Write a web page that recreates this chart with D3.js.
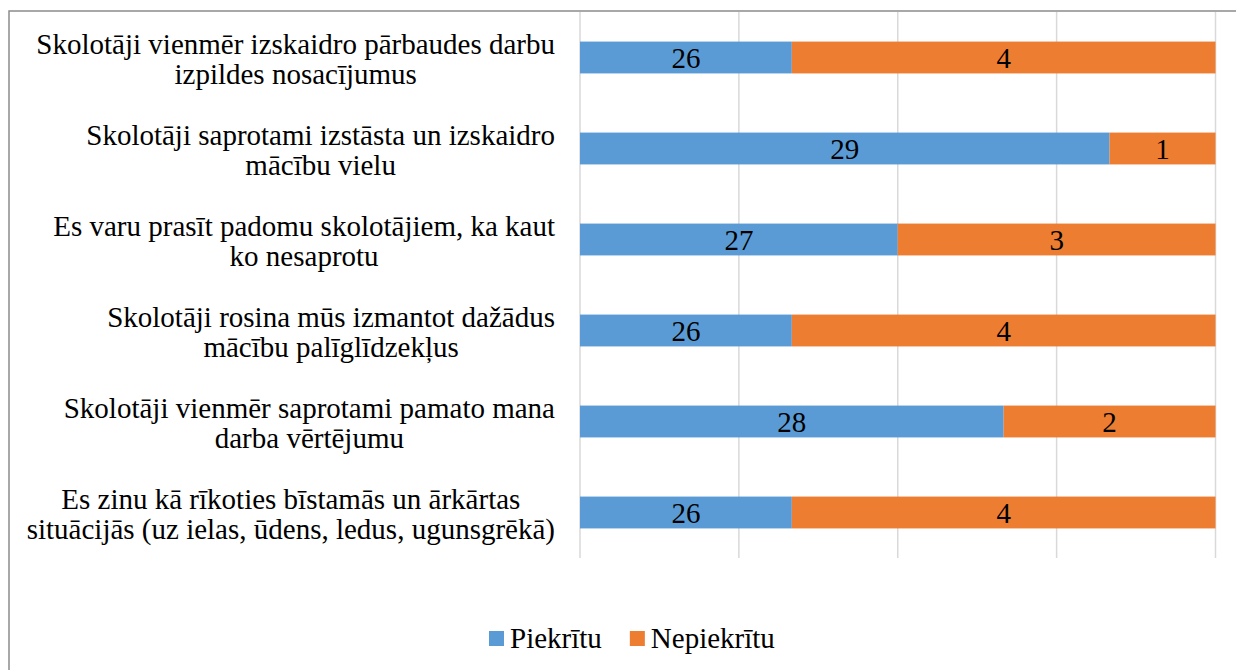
<!DOCTYPE html>
<html><head><meta charset="utf-8">
<script src="https://cdn.jsdelivr.net/npm/d3@7"></script>
<style>body{margin:0;background:#fff}svg{display:block}</style>
</head><body>
<svg id="c" width="1236" height="670"></svg>
<script>
const categories = [
  ["Skolotāji vienmēr izskaidro pārbaudes darbu", "izpildes nosacījumus"],
  ["Skolotāji saprotami izstāsta un izskaidro", "mācību vielu"],
  ["Es varu prasīt padomu skolotājiem, ka kaut", "ko nesaprotu"],
  ["Skolotāji rosina mūs izmantot dažādus", "mācību palīglīdzekļus"],
  ["Skolotāji vienmēr saprotami pamato mana", "darba vērtējumu"],
  ["Es zinu kā rīkoties bīstamās un ārkārtas", "situācijās (uz ielas, ūdens, ledus, ugunsgrēkā)"]
];
const piekritu = [26, 29, 27, 26, 28, 26];
const nepiekritu = [4, 1, 3, 4, 2, 4];
const seriesNames = ["Piekrītu", "Nepiekrītu"];
const colors = ["#5b9bd5", "#ed7d31"];
const axisMin = 24, axisMax = 30;
const gridTicks = [24, 25.5, 27, 28.5, 30];

const svg = d3.select("#c");
const font = '"Liberation Serif", "Times New Roman", Tinos, serif';
const fs = 29;

// outer border
svg.append("rect").attr("x", 9).attr("y", 11).attr("width", 1240).attr("height", 680)
  .attr("fill", "none").attr("stroke", "#8c8c8c").attr("stroke-width", 1.5);

const x = d3.scaleLinear().domain([axisMin, axisMax]).range([580, 1215.5]);
const y = d3.scaleBand().domain(d3.range(categories.length)).range([12, 558]).paddingInner(0.65).paddingOuter(0.325);

// gridlines
svg.append("g").selectAll("line").data(gridTicks).join("line")
  .attr("x1", d => x(d)).attr("x2", d => x(d))
  .attr("y1", 12).attr("y2", 558)
  .attr("stroke", "#d9d9d9").attr("stroke-width", 1.5);

const rows = categories.map((c, i) => ({i, a: piekritu[i], b: nepiekritu[i]}));
const stack = d3.stack().keys(["a", "b"])(rows);

stack.forEach((layer, k) => {
  const g = svg.append("g");
  g.selectAll("rect").data(layer).join("rect")
    .attr("x", d => x(Math.max(d[0], axisMin)))
    .attr("width", d => x(d[1]) - x(Math.max(d[0], axisMin)))
    .attr("y", d => y(d.data.i))
    .attr("height", y.bandwidth())
    .attr("fill", colors[k]);
  g.selectAll("text").data(layer).join("text")
    .attr("x", d => (x(Math.max(d[0], axisMin)) + x(d[1])) / 2)
    .attr("y", d => y(d.data.i) + y.bandwidth() / 2)
    .attr("dy", "0.35em")
    .attr("text-anchor", "middle")
    .style("font-family", font).style("font-size", fs + "px").attr("fill", "#000")
    .text(d => d[1] - d[0]);
});

// category labels: block centered, right-aligned at 555
const lab = svg.append("g");
categories.forEach((lines, i) => {
  const cy = y(i) + y.bandwidth() / 2 + 1;
  const lh = 30;
  const texts = lines.map((ln, j) => lab.append("text")
    .style("font-family", font).style("font-size", fs + "px").attr("fill", "#000")
    .attr("text-anchor", "middle")
    .attr("y", cy + (j - (lines.length - 1) / 2) * lh)
    .attr("dy", "0.35em")
    .text(ln));
  const maxW = d3.max(texts, t => t.node().getComputedTextLength());
  texts.forEach(t => t.attr("x", 555 - maxW / 2));
});

// legend
const leg = svg.append("g");
let lx = 489;
seriesNames.forEach((n, k) => {
  leg.append("rect").attr("x", lx).attr("y", 631).attr("width", 15).attr("height", 15).attr("fill", colors[k]);
  const t = leg.append("text").attr("x", lx + 21).attr("y", 637.5).attr("dy", "0.35em")
    .style("font-family", font).style("font-size", fs + "px").attr("fill", "#000").text(n);
  lx += 21 + t.node().getComputedTextLength() + 28;
});
</script>
</body></html>
